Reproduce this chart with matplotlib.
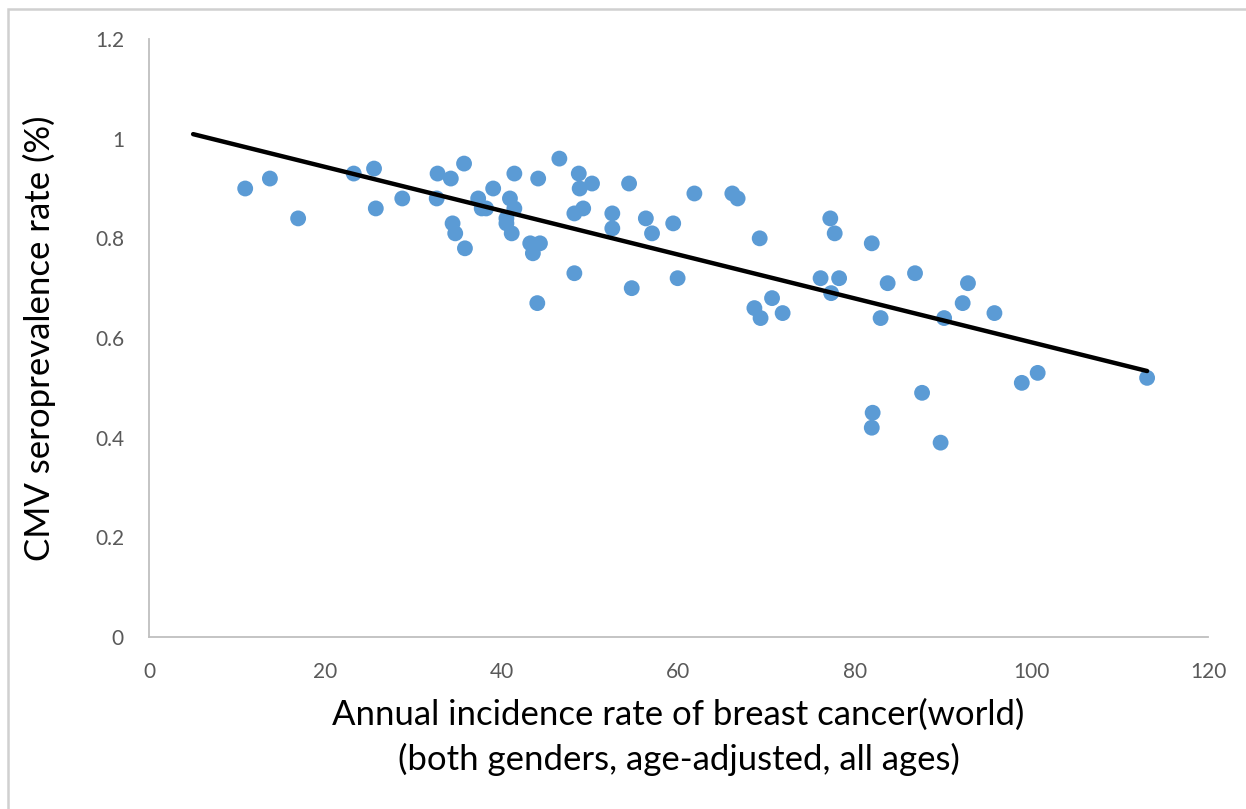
import numpy as np
import matplotlib.pyplot as plt
from matplotlib.patches import Rectangle

# annual incidence rate of breast cancer (world), per 100 000
incidence = [
    10.9, 13.7, 16.9, 23.2, 25.5, 25.7, 28.7, 32.7, 32.6, 34.2,
    34.4, 34.7, 35.7, 35.8, 37.3, 37.7, 38.2, 39.0, 40.5, 40.5,
    40.9, 41.1, 41.4, 41.4, 43.2, 43.5, 44.1, 44.0, 44.3, 46.5,
    48.2, 48.2, 48.7, 48.8, 49.2, 50.2, 52.5, 52.5, 54.4, 54.7,
    56.3, 57.0, 59.4, 59.9, 61.8, 66.1, 66.7, 68.6, 69.2, 69.3,
    70.6, 71.8, 76.1, 77.2, 77.3, 77.7, 78.2, 81.9, 82.0, 81.9,
    82.9, 83.7, 86.8, 87.6, 89.7, 90.1, 92.2, 92.8, 95.8, 98.9,
    100.7, 113.1,
]
# CMV seroprevalence rate
cmv = [
    0.90, 0.92, 0.84, 0.93, 0.94, 0.86, 0.88, 0.93, 0.88, 0.92,
    0.83, 0.81, 0.95, 0.78, 0.88, 0.86, 0.86, 0.90, 0.84, 0.83,
    0.88, 0.81, 0.93, 0.86, 0.79, 0.77, 0.92, 0.67, 0.79, 0.96,
    0.85, 0.73, 0.93, 0.90, 0.86, 0.91, 0.85, 0.82, 0.91, 0.70,
    0.84, 0.81, 0.83, 0.72, 0.89, 0.89, 0.88, 0.66, 0.80, 0.64,
    0.68, 0.65, 0.72, 0.84, 0.69, 0.81, 0.72, 0.79, 0.45, 0.42,
    0.64, 0.71, 0.73, 0.49, 0.39, 0.64, 0.67, 0.71, 0.65, 0.51,
    0.53, 0.52,
]
trend_start = 5.0

x_ticks = [0, 20, 40, 60, 80, 100, 120]
y_ticks = [0, 0.2, 0.4, 0.6, 0.8, 1.0, 1.2]
y_tick_labels = ["0", "0.2", "0.4", "0.6", "0.8", "1", "1.2"]

plt.rcParams["font.family"] = ["Lato", "DejaVu Sans"]

fig = plt.figure(figsize=(12.46, 8.09), dpi=100)
ax = fig.add_axes([149 / 1246, 172 / 809, 1059 / 1246, 598 / 809])

# chart border like an office chart
fig.patches.append(Rectangle((8 / 1246, -0.01), 1.2, (800 / 809) + 0.01,
                             transform=fig.transFigure, fill=False,
                             edgecolor="#d0d0d0", linewidth=1.8))

ax.scatter(incidence, cmv, s=130, color="#5b9bd5", edgecolors="none", zorder=3)

slope, inter = np.polyfit(incidence, cmv, 1)
tx = np.array([trend_start, max(incidence)])
ax.plot(tx, slope * tx + inter, color="black", linewidth=3.2,
        solid_capstyle="round", zorder=4)

ax.set_xlim(0, 120)
ax.set_ylim(0, 1.2)
ax.set_xticks(x_ticks)
ax.set_yticks(y_ticks)
ax.set_yticklabels(y_tick_labels)
ax.tick_params(length=0, labelsize=15, labelcolor="#595959")
ax.tick_params(axis="x", pad=18)
ax.tick_params(axis="y", pad=18)

for side in ["top", "right"]:
    ax.spines[side].set_visible(False)
for side in ["left", "bottom"]:
    ax.spines[side].set_color("#bfbfbf")
    ax.spines[side].set_linewidth(1.3)

ax.set_xlabel("Annual incidence rate of breast cancer(world)\n"
              "(both genders, age-adjusted, all ages)",
              fontsize=25, labelpad=12, linespacing=1.45)
ax.set_ylabel("CMV seroprevalence rate (%)", fontsize=25, labelpad=28)

fig.savefig("out.png", dpi=100)
